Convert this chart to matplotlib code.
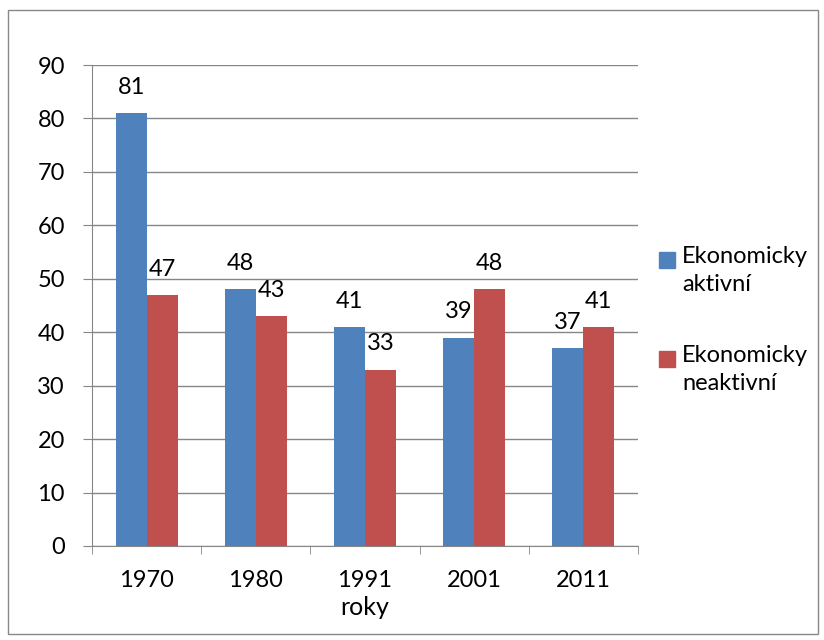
import matplotlib
matplotlib.use("Agg")
import matplotlib.pyplot as plt
from matplotlib.patches import Rectangle
import numpy as np

years = ["1970", "1980", "1991", "2001", "2011"]
aktivni = [81, 48, 41, 39, 37]
neaktivni = [47, 43, 33, 48, 41]
series_labels = ["Ekonomicky\naktivní", "Ekonomicky\nneaktivní"]
colors = ["#4F81BD", "#C0504D"]

plt.rcParams['font.family'] = ['Lato', 'DejaVu Sans']
fs = 17

fig = plt.figure(figsize=(8.24, 6.4), dpi=100)
ax = fig.add_axes([92/824, 1-546/640, (638-92)/824, (546-65)/640])

x = np.arange(len(years))
w = 0.284
b1 = ax.bar(x - w/2, aktivni, w, color=colors[0], zorder=3)
b2 = ax.bar(x + w/2, neaktivni, w, color=colors[1], zorder=3)
for bars, vals in ((b1, aktivni), (b2, neaktivni)):
    for r, v in zip(bars, vals):
        ax.annotate(str(v), (r.get_x() + r.get_width()/2, v), xytext=(0, 11),
                    textcoords="offset points", ha="center", va="bottom", fontsize=fs)

ax.set_xlim(-0.5, len(years) - 0.5)
ax.set_ylim(0, 90)
ax.set_yticks(range(0, 91, 10))
ax.yaxis.grid(True, color="#868686", linewidth=1, zorder=0)
ax.set_xticks(x)
ax.set_xticklabels(years, fontsize=fs)
ax.set_xticks(np.arange(-0.5, len(years), 1), minor=True)
ax.tick_params(axis="x", which="major", length=0, pad=17)
ax.tick_params(axis="x", which="minor", length=6, direction="out", color="#868686")
ax.tick_params(axis="y", length=6.5, direction="out", color="#868686", labelsize=fs, pad=13)
for s in ["top", "right"]:
    ax.spines[s].set_visible(False)
ax.spines["left"].set_color("#868686")
ax.spines["bottom"].set_color("#868686")
ax.set_xlabel("roky", fontsize=18, labelpad=4)

# legend
for i, (lab, c) in enumerate(zip(series_labels, colors)):
    ytop = 252 + i * 99
    fig.add_artist(Rectangle((659/824, 1-(ytop+16)/640), 16/824, 16/640,
                             transform=fig.transFigure, color=c))
    fig.text(682/824, 1-(ytop-6)/640, lab, fontsize=fs, va="top", ha="left",
             linespacing=1.4)

fig.add_artist(Rectangle((8/824, 6/640), 810/824, 624/640, transform=fig.transFigure,
                         fill=False, edgecolor="#898989", linewidth=1))

fig.savefig("out.png", dpi=100)
